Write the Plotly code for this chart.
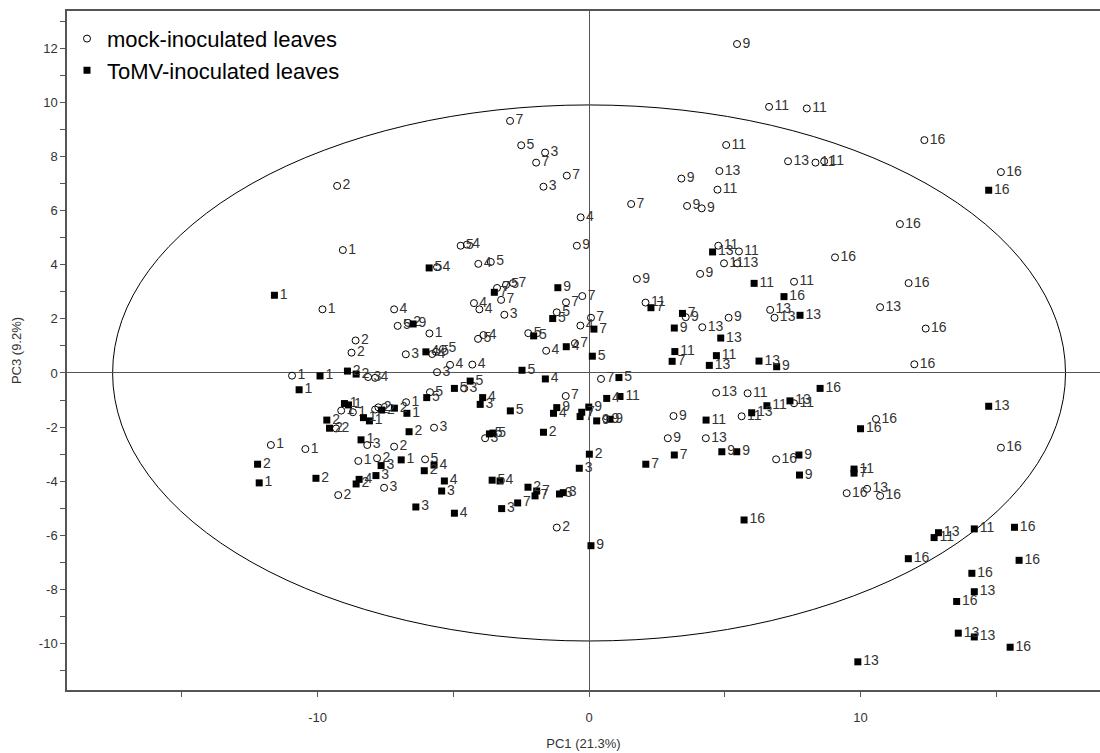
import plotly.graph_objects as go

# ---- data (PC1, PC3 scores, sampling day labels) ----
mock_pc1 = [5.45, 6.63, 8.02, -2.91, -2.50, -1.62, -1.95, -0.82, -1.68, -0.31, 1.55, 5.05, 4.80, 4.73, 3.40,
            3.61, 4.15, 7.33, 8.34, 8.66, 12.35, 15.17, 11.45, 11.77, 10.72, 12.40, 11.98, 15.17, 10.57, 4.76,
            5.52, 4.97, 5.46, 4.09, 7.55, 9.06, 6.67, 6.83, 3.56, 4.17, 5.14, -9.28, -9.07, -9.82, -7.18,
            -7.05, -6.67, -5.88, -8.60, -8.75, -6.75, -5.78, -5.64, -5.38, -4.73, -4.50, -4.08, -3.62, -0.45,
            1.76, 2.08, -3.39, -3.06, -2.80, -3.24, -4.24, -4.04, -3.12, -0.85, -0.25, -1.19, 0.07, -0.32,
            -2.24, -1.58, -0.52, -4.09, -3.89, -4.30, -5.12, -5.60, -10.94, -8.14, -7.88, -9.13, -8.70, -7.88,
            -7.76, -6.74, -9.32, -5.71, -5.86, -11.72, -10.45, -8.17, -7.18, -8.50, -7.81, -6.04, -7.55, -9.24,
            -4.60, -3.83, -0.86, 0.63, 0.44, -1.19, 4.68, 5.84, 5.62, 7.55, 3.11, 2.90, 4.30, 6.89, 9.49,
            10.24, 10.72, -5.60]
mock_pc3 = [12.15, 9.83, 9.77, 9.31, 8.41, 8.14, 7.77, 7.29, 6.88, 5.75, 6.24, 8.42, 7.46, 6.77, 7.18,
            6.17, 6.08, 7.82, 7.77, 7.82, 8.60, 7.42, 5.50, 3.32, 2.43, 1.64, 0.32, -2.76, -1.70, 4.70,
            4.49, 4.05, 4.05, 3.66, 3.37, 4.27, 2.33, 2.04, 2.06, 1.69, 2.04, 6.91, 4.54, 2.35, 2.35,
            1.74, 1.85, 1.46, 1.20, 0.75, 0.69, 0.70, 0.78, 0.89, 4.70, 4.74, 4.03, 4.10, 4.70,
            3.47, 2.60, 3.14, 3.25, 3.32, 2.70, 2.58, 2.35, 2.15, 2.61, 2.84, 2.24, 2.04, 1.75,
            1.47, 0.82, 1.10, 1.26, 1.40, 0.31, 0.30, 0.03, -0.10, -0.15, -0.18, -1.39, -1.45, -1.35,
            -1.27, -1.08, -2.05, -2.02, -0.71, -2.66, -2.81, -2.66, -2.72, -3.25, -3.15, -3.19, -4.24, -4.51,
            -0.57, -2.41, -0.85, -1.70, -0.22, -5.71, -0.73, -0.75, -1.60, -1.12, -1.59, -2.41, -2.41, -3.19, -4.44,
            -4.28, -4.54, 3.91]
mock_day = ["9", "11", "11", "7", "5", "3", "7", "7", "3", "4", "7", "11", "13", "11", "9",
            "9", "9", "13", "11", "11", "16", "16", "16", "16", "13", "16", "16", "16", "16", "11",
            "11", "11", "13", "9", "11", "16", "13", "13", "9", "13", "9", "2", "1", "1", "4",
            "5", "2", "1", "2", "2", "3", "4", "5", "5", "5", "4", "4", "5", "9",
            "9", "11", "7", "5", "7", "7", "4", "4", "3", "7", "7", "5", "7", "4",
            "5", "4", "7", "5", "4", "4", "4", "3", "1", "3", "4", "1", "1", "2",
            "2", "1", "2", "3", "5", "1", "1", "3", "2", "1", "2", "5", "3", "2",
            "3", "3", "7", "9", "7", "2", "13", "11", "11", "11", "9", "9", "13", "16", "16",
            "13", "16", "4"]

tomv_pc1 = [14.72, 14.72, 10.00, 4.55, 6.08, 7.18, 7.77, 3.44, 3.14, 4.85, 3.16, 3.06, 4.69, 4.43, 6.26,
            6.91, 2.28, -11.59, -6.48, -5.89, -6.01, -3.49, -1.15, -1.34, 0.18, -2.04, -0.84, 0.12, -2.47,
            -9.91, -8.90, -8.58, -10.68, -9.01, -8.86, -8.31, -8.09, -7.64, -7.17, -6.71, -9.66, -9.56, -6.63,
            -5.98, -8.40, -7.66, -6.92, -5.71, -6.07, -12.21, -12.15, -10.06, -7.85, -8.47, -8.58, -6.38, -5.43,
            -5.33, -4.38, -4.96, -3.92, -4.01, -2.90, -1.19, -1.31, -0.01, -0.27, -0.33, 0.28, 0.77, 0.65,
            1.14, 1.10, -1.61, -1.68, -3.67, -3.54, 0.01, -0.36, 2.09, -4.96, -3.57, -3.28, -3.22, -2.63,
            -2.25, -1.93, -1.99, -1.09, -0.95, 0.07, 5.71, 9.90, 6.55, 5.99, 8.51, 7.40, 4.31, 3.14, 4.89,
            5.44, 7.73, 7.75, 9.76, 9.76, 12.87, 12.71, 14.19, 15.67, 11.76, 15.84, 14.10, 14.19, 13.54, 13.60,
            14.19, 15.51]
tomv_pc3 = [6.75, -1.23, -2.06, 4.47, 3.31, 2.82, 2.13, 2.20, 1.66, 1.29, 0.79, 0.43, 0.64, 0.28, 0.44,
            0.23, 2.41, 2.87, 1.81, 3.88, 0.78, 2.98, 3.15, 2.01, 1.62, 1.37, 0.97, 0.62, 0.10,
            -0.11, 0.07, -0.04, -0.62, -1.13, -1.18, -1.65, -1.77, -1.37, -1.30, -1.49, -1.74, -2.04, -2.17,
            -0.91, -2.47, -3.42, -3.21, -3.40, -3.61, -3.37, -4.06, -3.89, -3.79, -3.93, -4.10, -4.95, -4.36,
            -3.99, -0.30, -0.57, -0.91, -1.16, -1.40, -1.28, -1.49, -1.26, -1.45, -1.61, -1.77, -1.71, -0.94,
            -0.87, -0.17, -0.22, -2.19, -2.25, -2.22, -3.00, -3.52, -3.37, -5.18, -3.96, -3.99, -5.01, -4.80,
            -4.22, -4.36, -4.54, -4.47, -4.42, -6.38, -5.43, -10.67, -1.21, -1.47, -0.57, -1.03, -1.74, -3.03, -2.91,
            -2.91, -3.03, -3.77, -3.55, -3.70, -5.90, -6.08, -5.76, -5.70, -6.86, -6.92, -7.40, -8.08, -8.44, -9.61,
            -9.75, -10.13]
tomv_day = ["16", "13", "16", "13", "11", "16", "13", "7", "9", "13", "11", "7", "11", "13", "13",
            "9", "7", "1", "9", "5", "4", "7", "9", "5", "7", "5", "4", "5", "5",
            "1", "2", "2", "1", "1", "1", "1", "1", "2", "2", "1", "2", "2", "2",
            "5", "1", "3", "1", "4", "2", "2", "1", "2", "3", "4", "2", "3", "3",
            "4", "5", "5", "4", "3", "5", "9", "4", "9", "7", "7", "9", "9", "4",
            "11", "5", "4", "2", "5", "5", "2", "3", "7", "4", "5", "4", "3", "7",
            "2", "7", "7", "3", "3", "9", "16", "13", "11", "13", "16", "13", "11", "7", "9",
            "9", "9", "9", "11", "7", "13", "11", "11", "16", "16", "16", "16", "13", "16", "13",
            "13", "16"]

# confidence ellipse half-axes
ellipse_rx = 17.55
ellipse_ry = 9.9

x_tickvals = [-10, 0, 10]
x_ticktext = ["-10", "0", "10"]
y_tickvals = [-10, -8, -6, -4, -2, 0, 2, 4, 6, 8, 10, 12]
y_ticktext = ["-10", "-8", "-6", "-4", "-2", "0", "2", "4", "6", "8", "10", "12"]

FONT = "Liberation Sans, Arial, sans-serif"

fig = go.Figure()
fig.add_trace(go.Scatter(
    x=mock_pc1, y=mock_pc3, text=mock_day, mode="markers+text",
    textposition="middle right", cliponaxis=False,
    textfont=dict(family=FONT, size=14, color="#333333"),
    marker=dict(symbol="circle-open", size=7, color="black", line=dict(width=1, color="black")),
    name="mock-inoculated leaves"))
fig.add_trace(go.Scatter(
    x=tomv_pc1, y=tomv_pc3, text=tomv_day, mode="markers+text",
    textposition="middle right", cliponaxis=False,
    textfont=dict(family=FONT, size=14, color="#333333"),
    marker=dict(symbol="square", size=7, color="black"),
    name="ToMV-inoculated leaves"))

fig.add_shape(type="circle", xref="x", yref="y",
              x0=-ellipse_rx, x1=ellipse_rx, y0=-ellipse_ry, y1=ellipse_ry,
              line=dict(color="black", width=1), layer="below")

fig.update_layout(
    width=1100, height=753,
    margin=dict(l=67, r=0, t=11, b=63),
    plot_bgcolor="white", paper_bgcolor="white",
    font=dict(family=FONT, size=13, color="#333333"),
    showlegend=True,
    legend=dict(x=0.0, y=0.99, xanchor="left", yanchor="top",
                bgcolor="rgba(0,0,0,0)", font=dict(family=FONT, size=22, color="black"),
                tracegroupgap=0, itemwidth=30),
    xaxis=dict(range=[-19.23, 18.82], tickvals=x_tickvals, ticktext=x_ticktext,
               showgrid=False, zeroline=True, zerolinecolor="#555555", zerolinewidth=1,
               showline=True, linecolor="#555555", linewidth=1.5, mirror=True,
               ticks="outside", ticklen=5, tickcolor="#555555",
               minor=dict(dtick=5, tick0=0, ticks="outside", ticklen=5, tickcolor="#555555", showgrid=False),
               ticklabelstandoff=10,
               tickfont=dict(family=FONT, size=13, color="#333333"),
               title=dict(text="PC1 (21.3%)", font=dict(family=FONT, size=13, color="#333333"), standoff=15)),
    yaxis=dict(range=[-11.71, 13.37], tickvals=y_tickvals, ticktext=y_ticktext,
               showgrid=False, zeroline=True, zerolinecolor="#555555", zerolinewidth=1,
               showline=True, linecolor="#555555", linewidth=1.5, mirror=False,
               ticks="outside", ticklen=5, tickcolor="#555555",
               minor=dict(dtick=1, tick0=0, ticks="outside", ticklen=5, tickcolor="#555555", showgrid=False),
               tickfont=dict(family=FONT, size=13, color="#333333"),
               title=dict(text="PC3 (9.2%)", font=dict(family=FONT, size=13, color="#333333"), standoff=14)),
)

fig.write_html("out.html")
